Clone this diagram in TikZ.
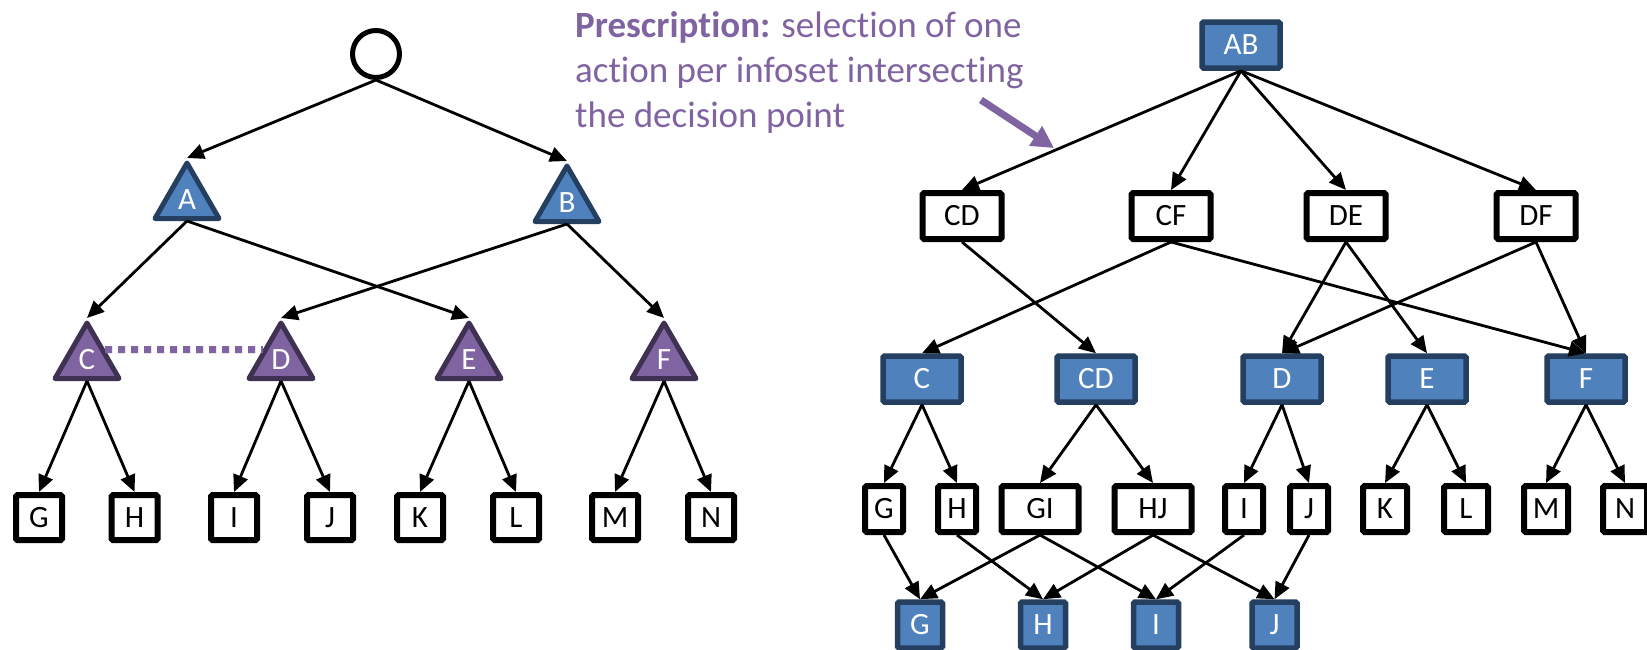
\documentclass[tikz,border=0pt]{standalone}
\usepackage{fontspec}
\setmainfont{Carlito}[Ligatures={NoCommon}]
\usetikzlibrary{arrows.meta,shapes.geometric}
\definecolor{nodeblue}{HTML}{4F81BD}
\definecolor{blueline}{HTML}{243F60}
\definecolor{nodepurple}{HTML}{8064A2}
\definecolor{purpleline}{HTML}{3F3151}
\begin{document}
\begin{tikzpicture}[x=1pt,y=-1pt,
  lbl/.style={font=\fontsize{31}{31}\selectfont, inner sep=0pt},
  chance/.style={circle, draw=black, line width=5pt, minimum size=47pt, inner sep=0pt},
  tri/.style={regular polygon, regular polygon sides=3, minimum size=74pt, inner sep=0pt, line width=5pt, line join=round, text=white, lbl},
  bluetri/.style={tri, fill=nodeblue, draw=blueline},
  purpletri/.style={tri, fill=nodepurple, draw=purpleline},
  box/.style={rectangle, draw=black, fill=white, line width=6pt, minimum height=46pt, inner sep=0pt, lbl, rounded corners=1.5pt},
  bluebox/.style={box, fill=nodeblue, draw=blueline, line width=5.5pt, text=white},
  leafbox/.style={box, minimum width=46pt, minimum height=45pt},
  edge/.style={line width=2.8pt, -{Triangle[length=17pt,width=15pt]}},
  infoset/.style={line width=7pt, dash pattern=on 7pt off 6pt, draw=nodepurple},
  note/.style={anchor=base west, inner sep=0pt, text=nodepurple, font=\fontsize{37}{44}\selectfont},
]
\useasboundingbox (0,0) rectangle (1647,649);

% ---------- extensive-form game tree ----------
\node[chance] (root) at (376,54) {};
\node[bluetri] (A) at (187,200) {A};
\node[bluetri] (B) at (567,203) {B};
\node[purpletri] (C) at (87,360) {C};
\node[purpletri] (D) at (281,360) {D};
\node[purpletri] (E) at (469,360) {E};
\node[purpletri] (F) at (664,360) {F};

\node[leafbox] (lG) at (39,517.5) {G};
\node[leafbox] (lH) at (134.5,517.5) {H};
\node[leafbox] (lI) at (234,517.5) {I};
\node[leafbox] (lJ) at (330,517.5) {J};
\node[leafbox] (lK) at (420,517.5) {K};
\node[leafbox] (lL) at (516,517.5) {L};
\node[leafbox] (lM) at (615,517.5) {M};
\node[leafbox] (lN) at (711,517.5) {N};

\draw[edge] (root.south) -- (A.north);
\draw[edge] (root.south) -- (B.north);
\draw[edge] (A.south) -- (C.north);
\draw[edge] (A.south) -- (E.north);
\draw[edge] (B.south) -- (D.north);
\draw[edge] (B.south) -- (F.north);
\foreach \p/\a/\b in {C/lG/lH, D/lI/lJ, E/lK/lL, F/lM/lN}{
  \draw[edge] (\p.south) -- (\a.north);
  \draw[edge] (\p.south) -- (\b.north);
}

% information set joining C and D
\draw[infoset, draw=black, opacity=0.2, xshift=2pt, yshift=-4pt] (C.30) -- (D.150);
\draw[infoset] (C.30) -- (D.150);

% ---------- annotation ----------
\node[note] (note1) at (575,37) {\textbf{Prescription:} selection of one};
\node[note] (note2) at (575,82) {action per infoset intersecting};
\node[note] (note3) at (575,127) {the decision point};
\coordinate (ptrstart) at (981,100);
\coordinate (ptrend) at (1054,148);
\draw[line width=7pt, black, opacity=0.2, xshift=2pt, yshift=-4pt, -{Triangle[length=22pt,width=22pt]}] (ptrstart) -- (ptrend);
\draw[line width=7pt, nodepurple, -{Triangle[length=22pt,width=22pt]}] (ptrstart) -- (ptrend);

% ---------- decision-point tree ----------
\node[bluebox, minimum width=78pt] (AB) at (1241,45) {AB};

\node[box, minimum width=79pt] (tCD) at (962,216) {CD};
\node[box, minimum width=79pt] (tCF) at (1171,216) {CF};
\node[box, minimum width=79pt] (tDE) at (1346,216) {DE};
\node[box, minimum width=79pt] (tDF) at (1536,216) {DF};

\node[bluebox, minimum width=78pt] (mC) at (922,379) {C};
\node[bluebox, minimum width=78pt] (mCD) at (1096,379) {CD};
\node[bluebox, minimum width=78pt] (mD) at (1282,379) {D};
\node[bluebox, minimum width=78pt] (mE) at (1427,379) {E};
\node[bluebox, minimum width=78pt] (mF) at (1586,379) {F};

\node[box, minimum width=38pt] (wG) at (884,509) {G};
\node[box, minimum width=38pt] (wH) at (957,509) {H};
\node[box, minimum width=77pt] (wGI) at (1040,509) {GI};
\node[box, minimum width=77pt] (wHJ) at (1153,509) {HJ};
\node[box, minimum width=38pt] (wI) at (1244,509) {I};
\node[box, minimum width=38pt] (wJ) at (1309,509) {J};
\node[box, minimum width=44pt] (wK) at (1385,509) {K};
\node[box, minimum width=44pt] (wL) at (1466,509) {L};
\node[box, minimum width=44pt] (wM) at (1546,509) {M};
\node[box, minimum width=44pt] (wN) at (1625,509) {N};

\node[bluebox, minimum width=45pt] (bG) at (920,625) {G};
\node[bluebox, minimum width=45pt] (bH) at (1043,625) {H};
\node[bluebox, minimum width=45pt] (bI) at (1156,625) {I};
\node[bluebox, minimum width=45pt] (bJ) at (1274.5,625) {J};

\foreach \a/\b in {AB/tCD, AB/tCF, AB/tDE, AB/tDF,
                   tCD/mCD, tCF/mC, tCF/mF, tDE/mD, tDE/mE, tDF/mD, tDF/mF,
                   mC/wG, mC/wH, mCD/wGI, mCD/wHJ, mD/wI, mD/wJ,
                   mE/wK, mE/wL, mF/wM, mF/wN,
                   wG/bG, wH/bH, wGI/bG, wGI/bI, wHJ/bH, wHJ/bJ, wI/bI, wJ/bJ}{
  \draw[edge] (\a.south) -- (\b.north);
}
\end{tikzpicture}
\end{document}
